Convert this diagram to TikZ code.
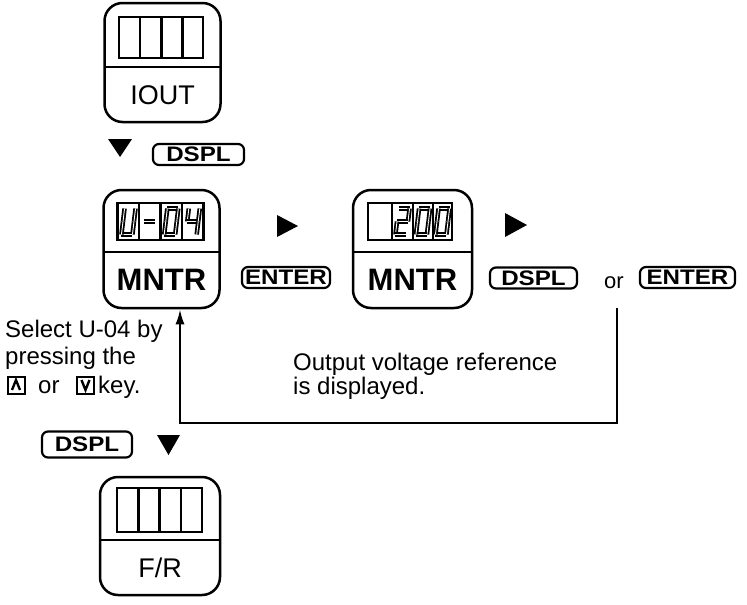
\documentclass[tikz,border=0pt]{standalone}
\usepackage{fontspec}
\setmainfont{Liberation Sans}
\usetikzlibrary{arrows.meta}
\newcommand\keytxt[1]{\scalebox{1.15}[1]{\fontsize{21}{21}\selectfont\bfseries #1}}
\newcommand\SA{\draw[seg] (-5.5,-13)--(5.5,-13);}
\newcommand\SB{\draw[seg] (5.5,-13)--(5.5,0);}
\newcommand\SC{\draw[seg] (5.5,0)--(5.5,13);}
\newcommand\SD{\draw[seg] (-5.5,13)--(5.5,13);}
\newcommand\SE{\draw[seg] (-5.5,0)--(-5.5,13);}
\newcommand\SF{\draw[seg] (-5.5,-13)--(-5.5,0);}
\newcommand\SG{\draw[seg] (-5.5,0)--(5.5,0);}
\newcommand\segdig[3]{\begin{scope}[shift={(#1,#2)},xslant=0.12]#3\end{scope}}
\begin{document}
\begin{tikzpicture}[x=1pt,y=-1pt,
  panel/.style={draw,line width=2.5pt,rounded corners=18pt,minimum width=116pt,minimum height=118pt,inner sep=0pt},
  disp/.style={draw,line width=2.2pt,inner sep=0pt,minimum width=85pt},
  keycap/.style={draw,line width=2.2pt,rounded corners=6pt,inner sep=0pt,minimum height=21pt},
  keyicon/.style={draw,line width=2pt,inner sep=0pt,minimum width=17pt,minimum height=17pt},
  txt/.style={inner sep=0pt,anchor=base west,font=\fontsize{24}{27}\selectfont},
  plabel/.style={inner sep=0pt,font=\fontsize{27}{27}\selectfont},
  mlabel/.style={inner sep=0pt,font=\fontsize{31}{31}\selectfont\bfseries},
  seg/.style={line width=1.8pt,double=white,double distance=0.9pt},
  tri/.style={fill=black},
  loopline/.style={line width=2.2pt}
]
\useasboundingbox (0,0) rectangle (747,605);

% ---- IOUT panel
\node[panel,minimum height=119pt] (iout) at (162.5,62.5) {};
\draw[line width=2.2pt] (104.5,67) -- (220.5,67);
\node[disp,minimum height=41pt,minimum width=84pt] (dispI) at (161,37.5) {};
\foreach \x in {140,161.5,182.5} \draw[line width=2.2pt] (\x,17) -- (\x,58);
\node[plabel] (lblI) at (162.5,95) {IOUT};

% ---- arrow + DSPL
\fill[tri] (108,139) -- (132,139) -- (120,157) -- cycle;
\node[keycap,minimum width=91pt] (keyD1) at (198.5,154.5) {\keytxt{DSPL}};

% ---- MNTR panel A
\node[panel] (mntrA) at (161.5,249) {};
\draw[line width=2.2pt] (103.5,252) -- (219.5,252);
\node[disp,minimum height=37pt,minimum width=86pt] (dispA) at (160.5,221.5) {};
\foreach \x in {139,160.5,182} \draw[line width=2.2pt] (\x,203) -- (\x,240);
\segdig{128.5}{221.5}{\SB\SC\SD\SE\SF}
\segdig{149.75}{221.5}{\SG}
\segdig{171.25}{221.5}{\SA\SB\SC\SD\SE\SF}
\segdig{192.75}{221.5}{\SF\SG\SB\SC}
\node[mlabel] (lblA) at (161.5,280) {MNTR};

\fill[tri] (277,215) -- (277,237) -- (298,226) -- cycle;
\node[keycap,minimum width=88pt] (keyE1) at (286,277.5) {\keytxt{ENTER}};

% ---- MNTR panel B
\node[panel,minimum width=119pt] (mntrB) at (412.5,249) {};
\draw[line width=2.2pt] (353,252) -- (472,252);
\node[disp,minimum height=37pt,minimum width=84pt] (dispB) at (410,221.5) {};
\foreach \x in {392,413,433} \draw[line width=2.2pt] (\x,203) -- (\x,240);
\segdig{402.5}{221.5}{\SA\SB\SG\SE\SD}
\segdig{423}{221.5}{\SA\SB\SC\SD\SE\SF}
\segdig{442.5}{221.5}{\SA\SB\SC\SD\SE\SF}
\node[mlabel] (lblB) at (412.5,280) {MNTR};

\fill[tri] (505,213) -- (505,237) -- (527,225) -- cycle;
\node[keycap,minimum width=87pt] (keyD2) at (533.5,278) {\keytxt{DSPL}};
\node[inner sep=0pt,anchor=base west,font=\fontsize{22}{22}\selectfont] (orB) at (604,288) {or};
\node[keycap,minimum width=95pt] (keyE2) at (687.5,277.5) {\keytxt{ENTER}};

% ---- loop connector
\coordinate (loopS) at (617,308);
\coordinate (loopR) at (617,423);
\coordinate (loopL) at (180,423);
\draw[loopline,-{Latex[length=15pt,width=9pt]}] (loopS) -- (loopR) -- (loopL) -- (loopL |- mntrA.south);

% ---- left texts
\node[txt] (sel1) at (5,337) {Select U-04 by};
\node[txt] (sel2) at (5,364) {pressing the};
\node[keyicon] (upk) at (16,385) {};
\draw[line width=2.4pt] ([shift={(-4,5)}]upk.center) -- ([shift={(0,-5)}]upk.center) -- ([shift={(4,5)}]upk.center);
\node[txt] (or1) at (38,393) {or};
\node[keyicon] (dnk) at (85.5,385) {};
\draw[line width=2.4pt] ([shift={(-4,-5)}]dnk.center) -- ([shift={(0,5)}]dnk.center) -- ([shift={(4,-5)}]dnk.center);
\node[txt] (keyw) at (98,393) {key.};

\node[txt] (out1) at (293,370) {Output voltage reference};
\node[txt] (out2) at (293,394) {is displayed.};

% ---- bottom
\node[keycap,minimum width=90pt,minimum height=26pt] (keyD3) at (87,444.5) {\keytxt{DSPL}};
\fill[tri] (157,435) -- (180,435) -- (168.5,455) -- cycle;

\node[panel,minimum width=120pt] (fr) at (160,536) {};
\draw[line width=2.2pt] (100,540) -- (220,540);
\node[disp,minimum height=44pt,minimum width=85pt] (dispF) at (159.5,510) {};
\foreach \x in {138.5,159.5,181} \draw[line width=2.2pt] (\x,488) -- (\x,532);
\node[plabel] (lblF) at (160,567.5) {F/R};
\end{tikzpicture}
\end{document}
